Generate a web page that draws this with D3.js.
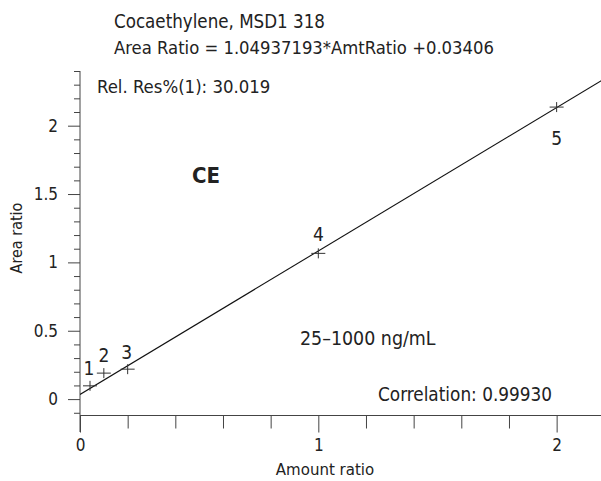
<!DOCTYPE html>
<html><head><meta charset="utf-8">
<script src="https://cdn.jsdelivr.net/npm/d3@7/dist/d3.min.js"></script>
<style>
html,body{margin:0;padding:0;background:#fff;}
text{font-family:"DejaVu Sans Condensed","Liberation Sans Narrow",sans-serif;fill:#222;}
</style></head>
<body>
<svg id="c" width="601" height="481"></svg>
<script>
const amountRatio = [0.042, 0.1, 0.2, 1.0, 2.0];
const areaRatio = [0.097, 0.19, 0.219, 1.066, 2.136];
const pointLabels = ["1", "2", "3", "4", "5"];
const fitSlope = 1.04937193;
const fitIntercept = 0.03406;
const xMajorTicks = [0, 1, 2];
const xMinorTicks = [0.2, 0.4, 0.6, 0.8, 1.2, 1.4, 1.6, 1.8];
const yMajorTicks = [0, 0.5, 1, 1.5, 2];
const yMinorTicks = [-0.1, 0.1, 0.2, 0.3, 0.4, 0.6, 0.7, 0.8, 0.9, 1.1, 1.2, 1.3, 1.4, 1.6, 1.7, 1.8, 1.9, 2.1, 2.2, 2.3, 2.4];
const titleLines = ["Cocaethylene, MSD1 318", "Area Ratio = 1.04937193*AmtRatio +0.03406"];
const relRes = "Rel. Res%(1): 30.019";
const compound = "CE";
const rangeText = "25\u20131000 ng/mL";
const corrText = "Correlation: 0.99930";
const xTitle = "Amount ratio";
const yTitle = "Area ratio";

const svg = d3.select("#c");
const x = d3.scaleLinear().domain([0, 2.2]).range([80, 604.3]);
const y = d3.scaleLinear().domain([-0.12, 2.4]).range([415.5, 71]);
const axisColor = "#444";

svg.append("clipPath").attr("id", "plot").append("rect")
  .attr("x", 80).attr("y", 71).attr("width", 524).attr("height", 344.5);

// y axis
const gy = svg.append("g").attr("transform", "translate(80,0)");
gy.call(d3.axisLeft(y).tickValues(yMinorTicks).tickSize(6).tickFormat(""));
gy.select(".domain").remove();
const gy2 = svg.append("g").attr("transform", "translate(80,0)");
gy2.call(d3.axisLeft(y).tickValues(yMajorTicks).tickSize(12).tickPadding(10).tickFormat(d3.format("")));
gy2.select(".domain").remove();
svg.append("line").attr("x1", 80).attr("x2", 80).attr("y1", 71).attr("y2", 432)
  .attr("stroke", axisColor);

// x axis
const gx = svg.append("g").attr("transform", "translate(0,415.5)");
gx.call(d3.axisBottom(x).tickValues(xMinorTicks).tickSize(13).tickFormat(""));
gx.select(".domain").remove();
const gx2 = svg.append("g").attr("transform", "translate(0,415.5)");
gx2.call(d3.axisBottom(x).tickValues(xMajorTicks).tickSize(17).tickPadding(6).tickFormat(d3.format("")));
gx2.select(".domain").remove();
svg.append("line").attr("x1", 80).attr("x2", 601).attr("y1", 415.5).attr("y2", 415.5)
  .attr("stroke", axisColor);

svg.selectAll(".tick line").attr("stroke", axisColor);
svg.selectAll(".tick text").style("font-size", "17px").attr("fill", "#222");

// fit line
svg.append("line")
  .attr("clip-path", "url(#plot)")
  .attr("x1", x(0)).attr("y1", y(fitIntercept))
  .attr("x2", x(2.2)).attr("y2", y(fitSlope * 2.2 + fitIntercept))
  .attr("stroke", "#111").attr("stroke-width", 1.1);

// points
const pts = amountRatio.map((a, i) => ({a, r: areaRatio[i], l: pointLabels[i]}));
const g = svg.append("g");
pts.forEach(p => {
  const cx = x(p.a), cy = y(p.r);
  g.append("line").attr("x1", cx - 7).attr("x2", cx + 7).attr("y1", cy).attr("y2", cy).attr("stroke", "#333");
  g.append("line").attr("x1", cx).attr("x2", cx).attr("y1", cy - 5).attr("y2", cy + 5).attr("stroke", "#333");
});
const labOff = [[-1, -11], [0, -11], [-1, -10], [0, -12], [0, 38]];
pts.forEach((p, i) => {
  svg.append("text").attr("x", x(p.a) + labOff[i][0]).attr("y", y(p.r) + labOff[i][1])
    .attr("text-anchor", "middle").style("font-size", "19px").text(p.l);
});

// texts
svg.append("text").attr("x", 114).attr("y", 28).style("font-size", "18.6px").text(titleLines[0]);
svg.append("text").attr("x", 114).attr("y", 54).style("font-size", "18.3px").text(titleLines[1]);
svg.append("text").attr("x", 97).attr("y", 93).style("font-size", "18.4px").text(relRes);
svg.append("text").attr("x", 192).attr("y", 183).style("font-size", "22px").style("font-weight", "bold").text(compound);
svg.append("text").attr("x", 300).attr("y", 345).style("font-size", "19.4px").text(rangeText);
svg.append("text").attr("x", 378).attr("y", 401).style("font-size", "18.8px").text(corrText);
svg.append("text").attr("x", 325).attr("y", 475).attr("text-anchor", "middle").style("font-size", "16.7px").text(xTitle);
svg.append("text").attr("transform", "translate(22,238) rotate(-90)").attr("text-anchor", "middle").style("font-size", "16px").text(yTitle);
</script>
</body></html>
